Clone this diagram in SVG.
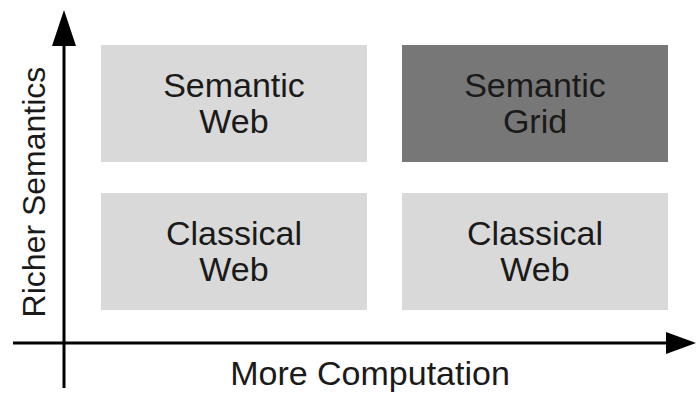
<svg xmlns="http://www.w3.org/2000/svg" width="696" height="398" viewBox="0 0 696 398">
<style>
.box{fill:#d9d9d9}
.dark{fill:#777777}
.t{font-family:"Liberation Sans",Arial,sans-serif;font-size:34px;fill:#1a1a1a;text-anchor:middle}
.ax{stroke:#000;stroke-width:3;fill:none}
</style>
<defs>
<marker id="ah" markerWidth="10" markerHeight="10" refX="9" refY="5" orient="auto" markerUnits="userSpaceOnUse" viewBox="0 0 10 10">
<path d="M0,0 L10,5 L0,10 Z" fill="#000"/>
</marker>
</defs>
<rect width="696" height="398" fill="#fff"/>
<g id="semantic-web"><rect class="box" x="101" y="45" width="266" height="117"/><text class="t" x="234" y="97">Semantic</text><text class="t" x="234" y="133">Web</text></g>
<g id="semantic-grid"><rect class="dark" x="402" y="45" width="266" height="117"/><text class="t" x="535" y="97">Semantic</text><text class="t" x="535" y="133">Grid</text></g>
<g id="classical-web-1"><rect class="box" x="101" y="193" width="266" height="117"/><text class="t" x="234" y="245">Classical</text><text class="t" x="234" y="281">Web</text></g>
<g id="classical-web-2"><rect class="box" x="402" y="193" width="266" height="117"/><text class="t" x="535" y="245">Classical</text><text class="t" x="535" y="281">Web</text></g>
<g id="connectors">
<line class="ax" x1="64" y1="388" x2="64" y2="40"/>
<path d="M64,10 L52,46 L76,46 Z" fill="#000"/>
<line class="ax" x1="13" y1="343" x2="670" y2="343"/>
<path d="M696,343 L666,332 L666,354 Z" fill="#000"/>
</g>
<text class="t" x="370" y="385">More Computation</text>
<text class="t" style="font-size:32px" transform="translate(45,192) rotate(-90)">Richer Semantics</text>
</svg>
